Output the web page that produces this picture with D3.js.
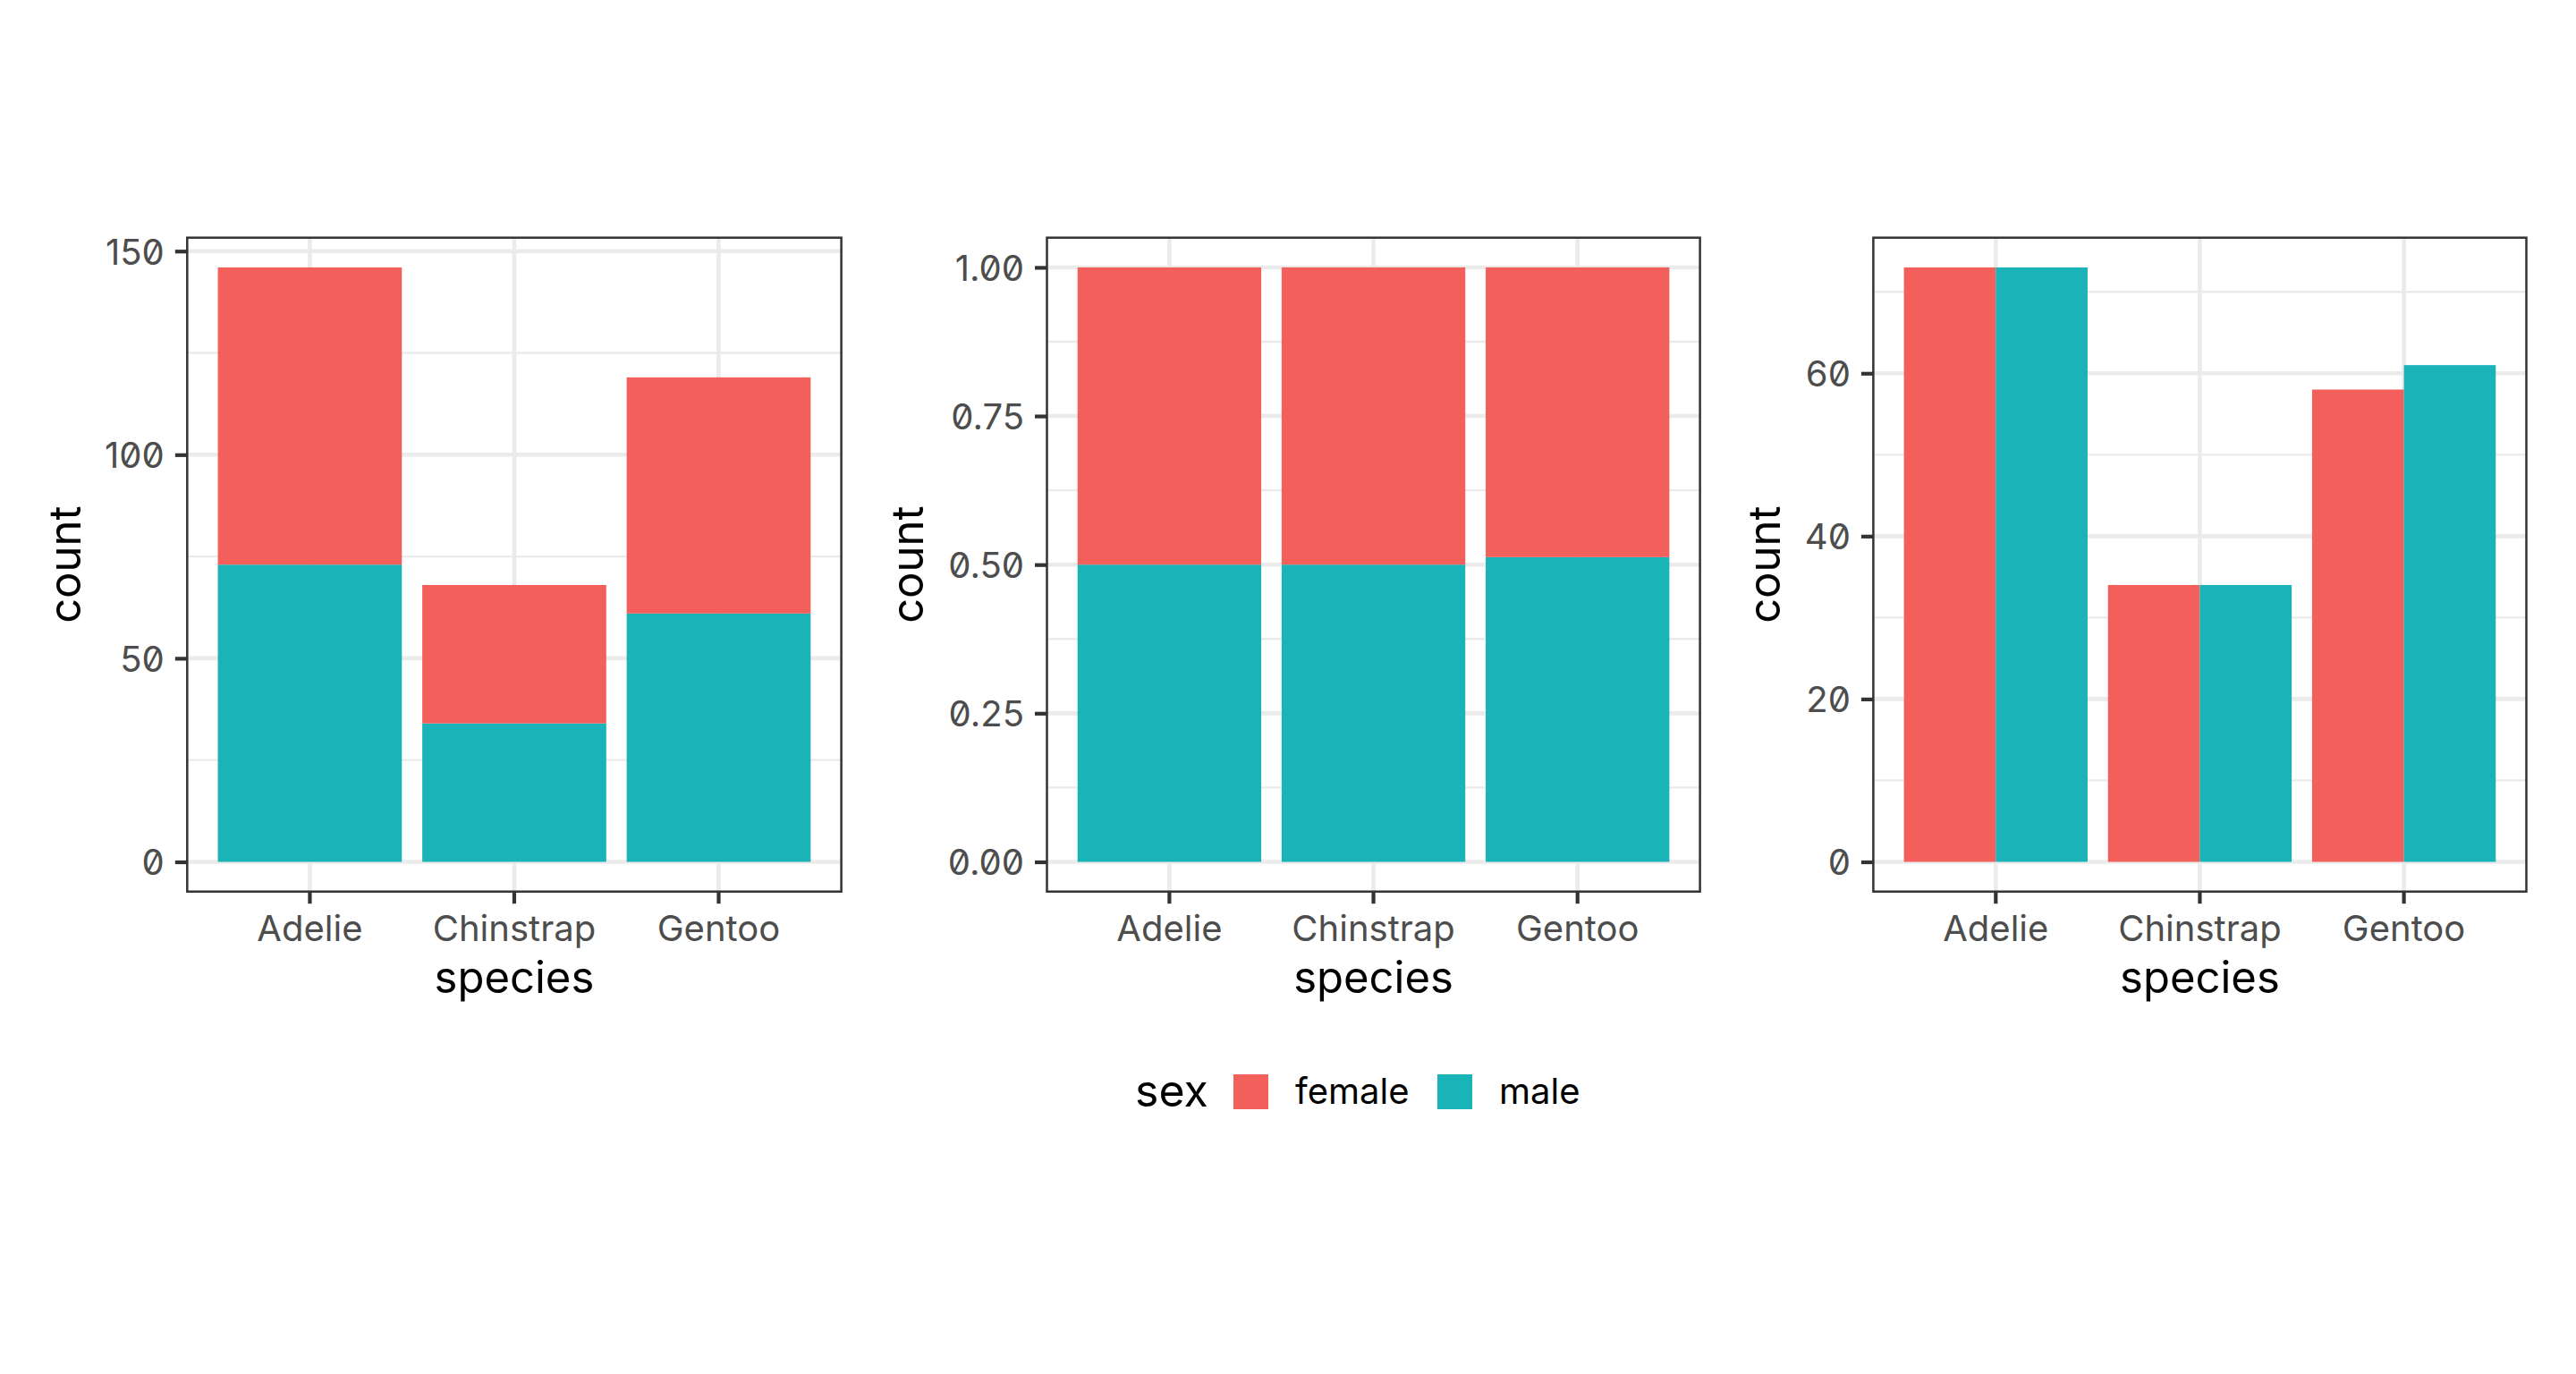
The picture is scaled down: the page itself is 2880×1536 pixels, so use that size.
<!DOCTYPE html>
<html>
<head>
<meta charset="utf-8">
<script src="https://cdn.jsdelivr.net/npm/d3@7"></script>
<style>
  html, body { margin: 0; padding: 0; background: #fff; }
  svg { display: block; }
  .tick-label { font-family: Inter, "Noto Sans", sans-serif; font-feature-settings: "zero" 1; fill: #4D4D4D; }
  .title { font-family: Inter, "Noto Sans", sans-serif; fill: #000; }
</style>
</head>
<body>
<script>
// ---- data ----
const species = ["Adelie", "Chinstrap", "Gentoo"];
const sexes = ["female", "male"];
const femaleCounts = [73, 34, 58];
const maleCounts = [73, 34, 61];
const countTicks = [0, 50, 100, 150];
const countMinor = [25, 75, 125];
const fillTicks = [0, 0.25, 0.5, 0.75, 1];
const fillMinor = [0.125, 0.375, 0.625, 0.875];
const dodgeTicks = [0, 20, 40, 60];
const dodgeMinor = [10, 30, 50, 70];
const sexColors = ["#F3605B", "#19B3B8"];

// ---- layout ----
const W = 2880, H = 1536;
const panelTop = 265.7, panelBottom = 996.7;
const panels = [
  { left: 209.3, right: 940.6, type: "stack" },
  { left: 1170.5, right: 1900.6, type: "fill" },
  { left: 2094.4, right: 2824.5, type: "dodge" }
];
const tickLen = 13.5, tickGap = 12;
const tickFont = 40, titleFont = 49;

const svg = d3.select("body").append("svg").attr("width", W).attr("height", H);
svg.append("rect").attr("width", W).attr("height", H).attr("fill", "#fff");

const color = d3.scaleOrdinal().domain(sexes).range(sexColors);

function expand(lo, hi) { const d = (hi - lo) * 0.05; return [lo - d, hi + d]; }

panels.forEach(p => {
  const g = svg.append("g");
  const x = d3.scaleBand().domain(species).range([p.left, p.right]).paddingInner(0.1).paddingOuter(0.15);
  let rows, yDomain, ticks, minor, fmt;
  if (p.type === "stack") {
    rows = species.map((s, i) => ({ s, m: maleCounts[i], f: femaleCounts[i] }));
    yDomain = expand(0, d3.max(rows, r => r.m + r.f));
    ticks = countTicks; minor = countMinor; fmt = d3.format("d");
  } else if (p.type === "fill") {
    rows = species.map((s, i) => { const t = maleCounts[i] + femaleCounts[i]; return { s, m: maleCounts[i] / t, f: femaleCounts[i] / t }; });
    yDomain = expand(0, 1);
    ticks = fillTicks; minor = fillMinor; fmt = d3.format(".2f");
  } else {
    rows = species.map((s, i) => ({ s, m: maleCounts[i], f: femaleCounts[i] }));
    yDomain = expand(0, d3.max(rows, r => Math.max(r.m, r.f)));
    ticks = dodgeTicks; minor = dodgeMinor; fmt = d3.format("d");
  }
  const y = d3.scaleLinear().domain(yDomain).range([panelBottom, panelTop]);

  // clip
  const cid = "clip" + p.type;
  svg.append("clipPath").attr("id", cid).append("rect")
    .attr("x", p.left).attr("y", panelTop).attr("width", p.right - p.left).attr("height", panelBottom - panelTop);
  const pg = g.append("g").attr("clip-path", `url(#${cid})`);

  // grid
  pg.selectAll(".minor").data(minor).join("line")
    .attr("x1", p.left).attr("x2", p.right).attr("y1", d => y(d)).attr("y2", d => y(d))
    .attr("stroke", "#EBEBEB").attr("stroke-width", 2.3);
  pg.selectAll(".majorY").data(ticks).join("line")
    .attr("x1", p.left).attr("x2", p.right).attr("y1", d => y(d)).attr("y2", d => y(d))
    .attr("stroke", "#EBEBEB").attr("stroke-width", 4.6);
  pg.selectAll(".majorX").data(species).join("line")
    .attr("y1", panelTop).attr("y2", panelBottom)
    .attr("x1", d => x(d) + x.bandwidth() / 2).attr("x2", d => x(d) + x.bandwidth() / 2)
    .attr("stroke", "#EBEBEB").attr("stroke-width", 4.6);

  // bars
  if (p.type === "dodge") {
    const xs = d3.scaleBand().domain(sexes).range([0, x.bandwidth()]);
    rows.forEach(r => {
      [["female", r.f], ["male", r.m]].forEach(([sx, v]) => {
        pg.append("rect")
          .attr("x", x(r.s) + xs(sx)).attr("width", xs.bandwidth())
          .attr("y", y(v)).attr("height", y(0) - y(v))
          .attr("fill", color(sx));
      });
    });
  } else {
    rows.forEach(r => {
      pg.append("rect").attr("x", x(r.s)).attr("width", x.bandwidth())
        .attr("y", y(r.m)).attr("height", y(0) - y(r.m)).attr("fill", color("male"));
      pg.append("rect").attr("x", x(r.s)).attr("width", x.bandwidth())
        .attr("y", y(r.m + r.f)).attr("height", y(r.m) - y(r.m + r.f)).attr("fill", color("female"));
    });
  }

  // border
  g.append("rect").attr("x", p.left).attr("y", panelTop)
    .attr("width", p.right - p.left).attr("height", panelBottom - panelTop)
    .attr("fill", "none").attr("stroke", "#333333").attr("stroke-width", 2.5);

  // y axis
  const yAxis = d3.axisLeft(y).tickValues(ticks).tickFormat(fmt).tickSize(tickLen).tickPadding(tickGap);
  const ya = g.append("g").attr("transform", `translate(${p.left},0)`).call(yAxis);
  ya.select(".domain").remove();
  ya.selectAll(".tick line").attr("stroke", "#333333").attr("stroke-width", 4.2);
  ya.selectAll(".tick text").attr("class", "tick-label").attr("font-size", tickFont)
    .attr("fill", "#4D4D4D").attr("font-family", null).attr("dy", "0.36em");

  // x axis
  const xAxis = d3.axisBottom(x).tickSize(tickLen).tickPadding(13);
  const xa = g.append("g").attr("transform", `translate(0,${panelBottom})`).call(xAxis);
  xa.select(".domain").remove();
  xa.selectAll(".tick line").attr("stroke", "#333333").attr("stroke-width", 4.2);
  xa.selectAll(".tick text").attr("class", "tick-label").attr("font-size", tickFont)
    .attr("fill", "#4D4D4D").attr("font-family", null);

  // titles
  let minX = Infinity;
  ya.selectAll(".tick text").each(function () {
    const b = this.getBoundingClientRect(); minX = Math.min(minX, b.left);
  });
  const cy = (panelTop + panelBottom) / 2;
  const cx = minX - 45;
  g.append("text").attr("class", "title").attr("font-size", titleFont)
    .attr("text-anchor", "middle").attr("dominant-baseline", "central")
    .attr("transform", `translate(${cx},${cy}) rotate(-90)`).text("count");
  g.append("text").attr("class", "title").attr("font-size", titleFont)
    .attr("text-anchor", "middle").attr("x", (p.left + p.right) / 2).attr("y", 1110).text("species");
});

// legend
const lg = svg.append("g");
lg.append("text").attr("class", "title").attr("font-size", 50).attr("x", 1269).attr("y", 1237).text("sex");
const keyX = [1379, 1607];
sexes.forEach((s, i) => {
  lg.append("rect").attr("x", keyX[i]).attr("y", 1201).attr("width", 39).attr("height", 39).attr("fill", color(s));
  lg.append("text").attr("class", "title").attr("font-size", 40).attr("x", keyX[i] + 69).attr("y", 1234).text(s);
});
</script>
</body>
</html>
